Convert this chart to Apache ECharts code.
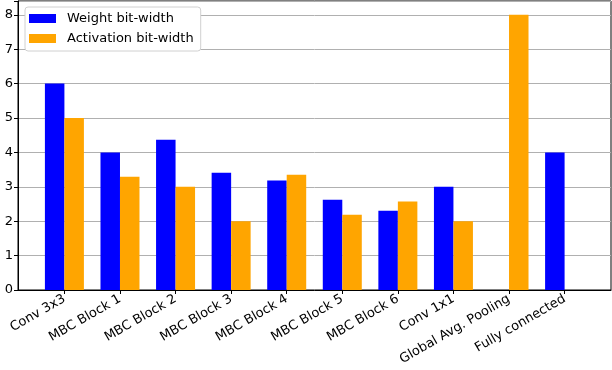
<!DOCTYPE html>
<html>
<head>
<meta charset="utf-8">
<script src="https://cdn.jsdelivr.net/npm/echarts@6/dist/echarts.min.js"></script>
<style>
  html, body { margin: 0; padding: 0; background: #fff; }
  #chart { width: 612px; height: 370px; }
</style>
</head>
<body>
<div id="chart"></div>
<script>
// categories + values
const categories = [
  "Conv 3x3", "MBC Block 1", "MBC Block 2", "MBC Block 3", "MBC Block 4",
  "MBC Block 5", "MBC Block 6", "Conv 1x1", "Global Avg. Pooling", "Fully connected"
];
const weightBits = [6.0, 4.0, 4.37, 3.41, 3.18, 2.62, 2.30, 3.0, 0, 4.0];
const activationBits = [5.0, 3.29, 3.0, 2.0, 3.35, 2.19, 2.57, 2.0, 8.0, 0];
const yTicks = [0, 1, 2, 3, 4, 5, 6, 7, 8];

const font = "DejaVu Sans";
const positions = categories.map((c, i) => i);

const chart = echarts.init(document.getElementById("chart"));
chart.setOption({
  animation: false,
  textStyle: { fontFamily: font },
  grid: {
    left: 18,
    right: 1,
    top: 1,
    bottom: 80,
    show: true,
    borderColor: "#000",
    borderWidth: 1,
    backgroundColor: "transparent",
  },
  legend: {
    left: 25,
    top: 7,
    orient: "vertical",
    icon: "rect",
    itemWidth: 27,
    itemHeight: 9,
    itemGap: 7,
    padding: [5, 7, 6, 4],
    backgroundColor: "#fff",
    borderColor: "#d0d0d0",
    borderWidth: 1,
    borderRadius: 3,
    textStyle: { fontFamily: font, fontSize: 13, color: "#000", padding: [0, 0, 0, 6] },
    data: ["Weight bit-width", "Activation bit-width"],
  },
  xAxis: {
    type: "value",
    min: -0.835,
    max: 9.835,
    splitLine: { show: false },
    axisLine: { show: true, onZero: false, lineStyle: { color: "#000", width: 1 } },
    axisTick: {
      show: true,
      customValues: positions,
      length: 4,
      lineStyle: { color: "#000" },
    },
    axisLabel: {
      customValues: positions,
      rotate: 30,
      margin: 8,
      fontFamily: font,
      fontSize: 13,
      color: "#000",
      formatter: (v) => categories[Math.round(v)],
    },
  },
  yAxis: {
    type: "value",
    min: 0,
    max: 8.4,
    interval: 1,
    axisLine: { show: true, onZero: false, lineStyle: { color: "#000", width: 1 } },
    axisTick: { show: true, length: 4, lineStyle: { color: "#000" } },
    axisLabel: {
      margin: 5,
      fontFamily: font,
      fontSize: 13,
      color: "#000",
      formatter: (v) => (yTicks.indexOf(v) >= 0 ? String(v) : ""),
    },
    splitLine: { show: true, lineStyle: { color: "#b0b0b0", width: 1 } },
  },
  series: [
    {
      name: "Weight bit-width",
      type: "bar",
      barWidth: 19.5,
      barGap: "0%",
      itemStyle: { color: "#0000ff" },
      data: weightBits.map((v, i) => [i, v]),
      z: 3,
    },
    {
      name: "Activation bit-width",
      type: "bar",
      barWidth: 19.5,
      barGap: "0%",
      itemStyle: { color: "#ffa500" },
      data: activationBits.map((v, i) => [i, v]),
      z: 3,
    },
  ],
});
</script>
</body>
</html>
